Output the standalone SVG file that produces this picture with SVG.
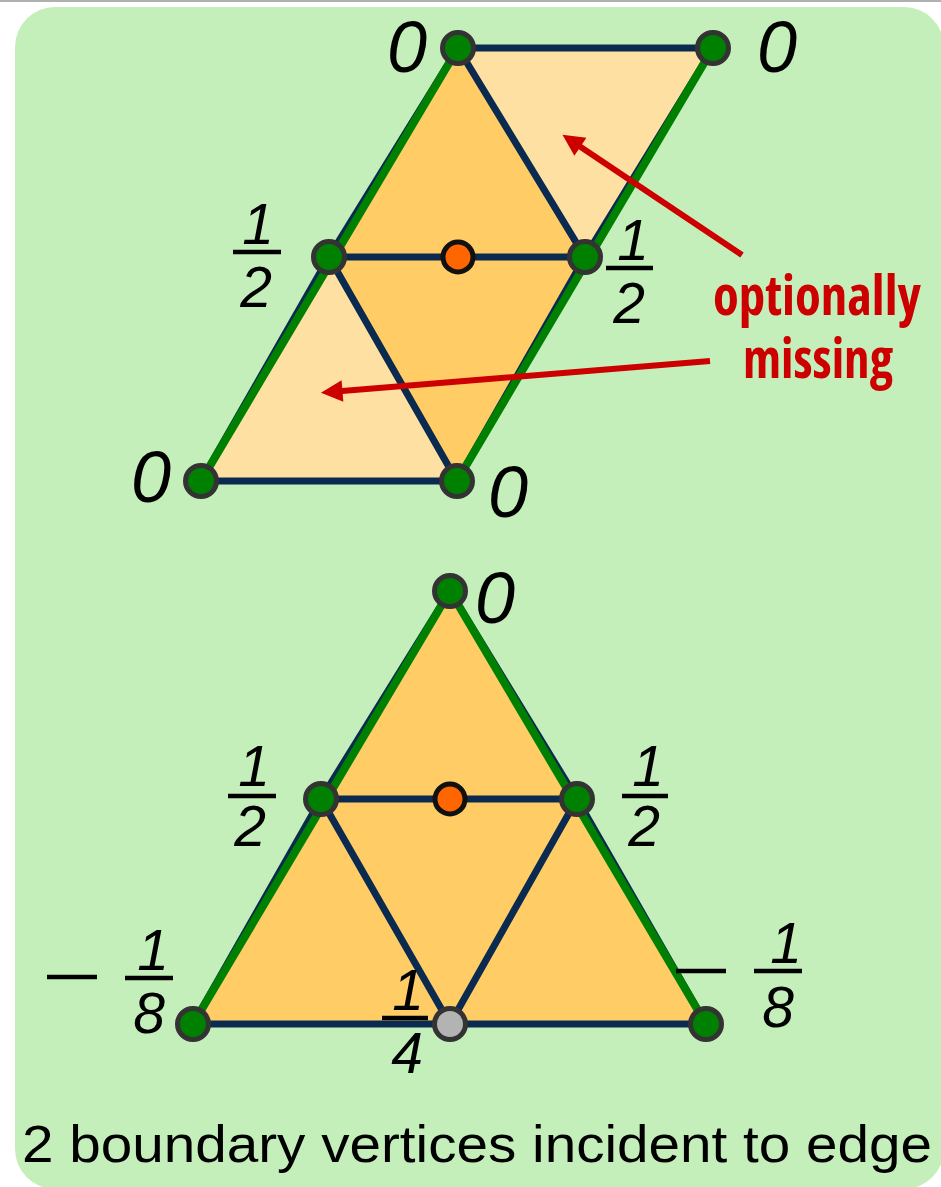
<svg xmlns="http://www.w3.org/2000/svg" width="941" height="1187" viewBox="0 0 941 1187">
<style>
.edge{stroke:#0b2a50;stroke-width:7;fill:none;stroke-linecap:round}
.bnd{stroke:#008000;stroke-width:8;fill:none;stroke-linecap:round}
.lt{fill:#ffe0a3}
.dk{fill:#ffcc66}
.vg{fill:#008000;stroke:#333;stroke-width:5}
.vo{fill:#ff6600;stroke:#111;stroke-width:5}
.vy{fill:#b3b3b3;stroke:#333;stroke-width:5}
.num{font-family:"Liberation Sans",Arial,sans-serif;font-style:italic;fill:#000;text-anchor:middle}
.z{font-size:72px}
.f{font-size:57px}
.bar{stroke:#000;stroke-width:4.5}
.note{font-family:"Open Sans","Liberation Sans",sans-serif;font-weight:bold;font-stretch:condensed;font-size:55px;fill:#cc0000;text-anchor:middle}
.arr{stroke:#cc0000;stroke-width:6;fill:none}
.cap{font-family:"Liberation Sans",Arial,sans-serif;font-size:52px;fill:#000}
</style>
<defs>
<marker id="ah" viewBox="0 0 10 10" refX="4.4" refY="5" markerWidth="4.5" markerHeight="3.6" orient="auto" markerUnits="strokeWidth">
<path d="M0,0 L10,5 L0,10 z" fill="#cc0000"/>
</marker>
</defs>
<rect x="0" y="0" width="941" height="2" fill="#b0b0b0"/>
<rect x="15" y="7" width="929" height="1182" rx="40" ry="40" fill="#c5efba"/>

<g id="top-figure">
<polygon class="lt" points="458,48 713,48 585,257"/>
<polygon class="lt" points="201,481 329,257 457,481"/>
<polygon class="dk" points="458,48 585,257 457,481 329,257"/>
</g>

<g id="connectors">
<polyline class="edge" points="201,481 329,257 458,48"/>
<polyline class="edge" points="457,481 585,257 713,48"/>
<line class="edge" x1="458" y1="48" x2="713" y2="48"/>
<line class="edge" x1="458" y1="48" x2="585" y2="257"/>
<line class="edge" x1="329" y1="257" x2="585" y2="257"/>
<line class="edge" x1="329" y1="257" x2="457" y2="481"/>
<line class="edge" x1="201" y1="481" x2="457" y2="481"/>
<line class="bnd" x1="201" y1="481" x2="458" y2="48"/>
<line class="bnd" x1="457" y1="481" x2="713" y2="48"/>

<polygon class="dk" points="450,591 706,1024 193,1024"/>
<polyline class="edge" points="193,1024 321,799 450,591 577,799 706,1024"/>
<line class="edge" x1="193" y1="1024" x2="706" y2="1024"/>
<line class="edge" x1="321" y1="799" x2="577" y2="799"/>
<line class="edge" x1="321" y1="799" x2="450" y2="1024"/>
<line class="edge" x1="577" y1="799" x2="450" y2="1024"/>
<line class="bnd" x1="193" y1="1024" x2="450" y2="591"/>
<line class="bnd" x1="706" y1="1024" x2="450" y2="591"/>

<line class="arr" x1="742" y1="255" x2="572.5" y2="141.4" marker-end="url(#ah)"/>
<line class="arr" x1="710" y1="361" x2="333" y2="391.8" marker-end="url(#ah)"/>
</g>

<g id="v-top-a"><circle class="vg" cx="458" cy="48" r="15.5"/><text class="num z" x="407" y="72">0</text></g>
<g id="v-top-b"><circle class="vg" cx="713" cy="48" r="15.5"/><text class="num z" x="777" y="72">0</text></g>
<g id="v-top-c"><circle class="vg" cx="329" cy="257" r="15.5"/>
<text class="num f" x="258" y="244">1</text><line class="bar" x1="233" y1="252" x2="281" y2="252"/><text class="num f" x="256" y="307">2</text></g>
<g id="v-top-o"><circle class="vo" cx="458" cy="257" r="15"/></g>
<g id="v-top-d"><circle class="vg" cx="585" cy="257" r="15.5"/>
<text class="num f" x="633" y="260">1</text><line class="bar" x1="606" y1="268" x2="653" y2="268"/><text class="num f" x="629" y="323">2</text></g>
<g id="v-top-e"><circle class="vg" cx="201" cy="481" r="15.5"/><text class="num z" x="151" y="502">0</text></g>
<g id="v-top-f"><circle class="vg" cx="457" cy="481" r="15.5"/><text class="num z" x="508" y="517">0</text></g>

<g id="note"><text class="note" x="817" y="315" textLength="208" lengthAdjust="spacingAndGlyphs">optionally</text>
<text class="note" x="818" y="378" textLength="150" lengthAdjust="spacingAndGlyphs">missing</text></g>

<g id="v-bot-t"><circle class="vg" cx="450" cy="591" r="15.5"/><text class="num z" x="495" y="623">0</text></g>
<g id="v-bot-l"><circle class="vg" cx="321" cy="799" r="15.5"/>
<text class="num f" x="254" y="786">1</text><line class="bar" x1="228" y1="796" x2="276" y2="796"/><text class="num f" x="250" y="846">2</text></g>
<g id="v-bot-o"><circle class="vo" cx="450" cy="799" r="15"/></g>
<g id="v-bot-r"><circle class="vg" cx="577" cy="799" r="15.5"/>
<text class="num f" x="648" y="786">1</text><line class="bar" x1="622" y1="796" x2="668" y2="796"/><text class="num f" x="644" y="846">2</text></g>
<g id="v-bot-bl"><circle class="vg" cx="193" cy="1024" r="15.5"/>
<line class="bar" x1="47" y1="977" x2="97" y2="977"/>
<text class="num f" x="153" y="970">1</text><line class="bar" x1="125" y1="978" x2="173" y2="978"/><text class="num f" x="149" y="1033">8</text></g>
<g id="v-bot-bc"><circle class="vy" cx="450" cy="1024" r="15.5"/>
<text class="num f" x="408" y="1010">1</text><line class="bar" x1="382" y1="1018" x2="428" y2="1018"/><text class="num f" x="407" y="1073">4</text></g>
<g id="v-bot-br"><circle class="vg" cx="706" cy="1024" r="15.5"/>
<line class="bar" x1="676" y1="971" x2="726" y2="971"/>
<text class="num f" x="786" y="963">1</text><line class="bar" x1="754" y1="971" x2="802" y2="971"/><text class="num f" x="778" y="1027">8</text></g>

<text class="cap" x="22" y="1162" textLength="910" lengthAdjust="spacingAndGlyphs">2 boundary vertices incident to edge</text>
</svg>
